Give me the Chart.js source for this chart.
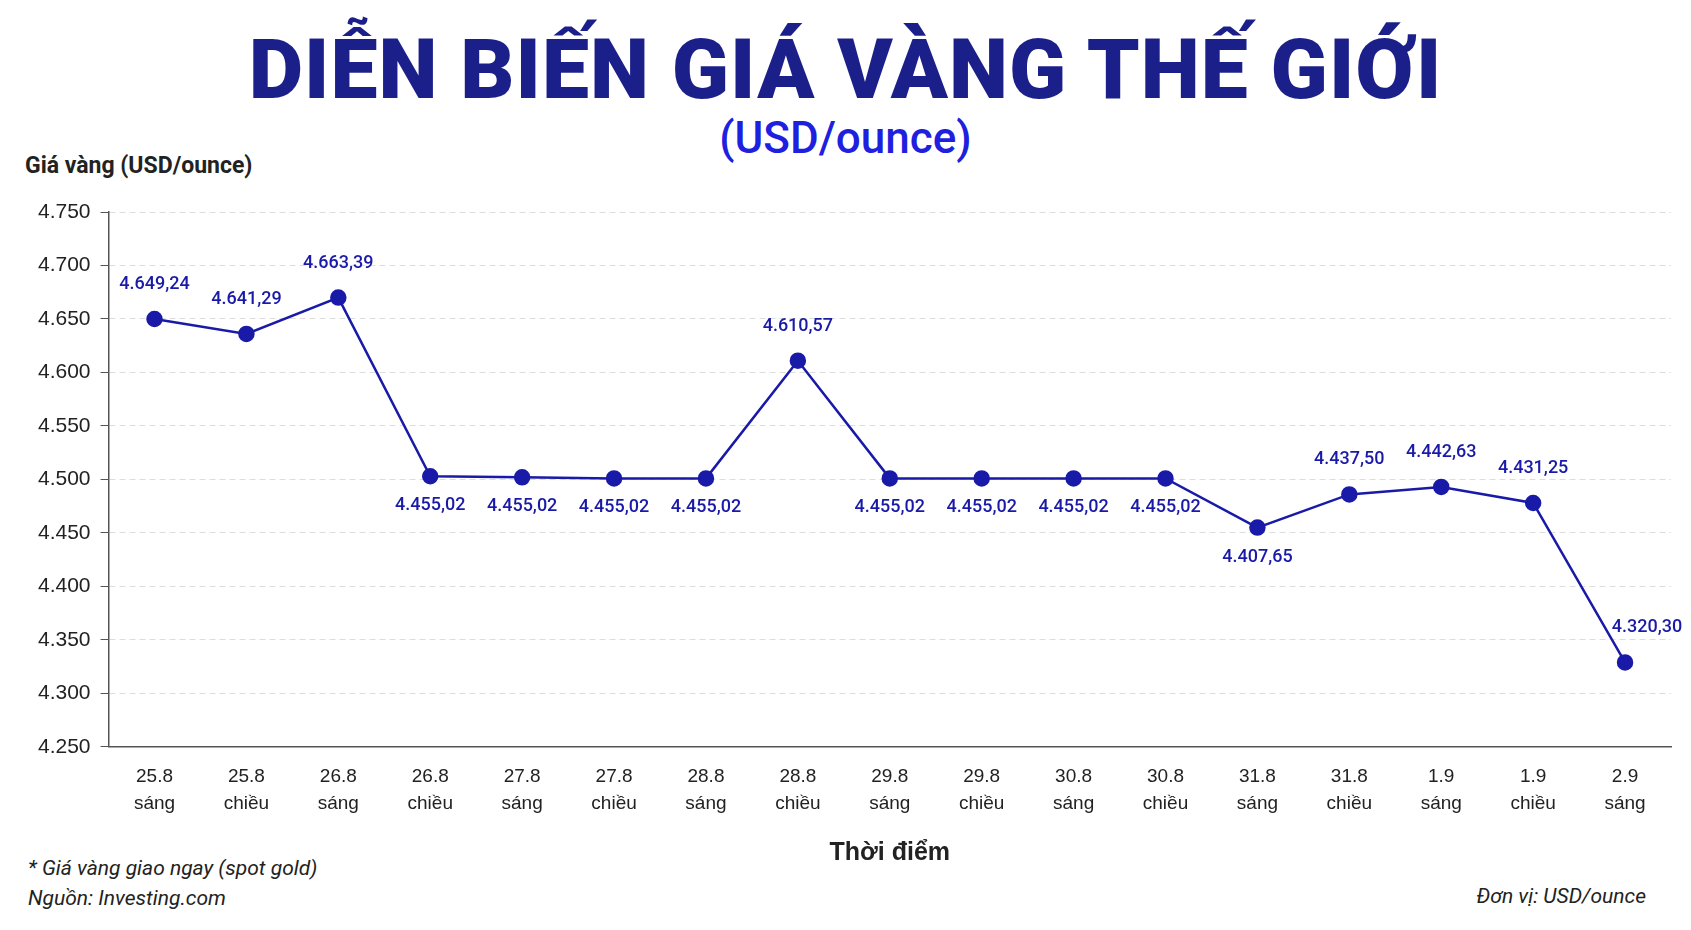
<!DOCTYPE html>
<html><head><meta charset="utf-8">
<script src="https://cdn.jsdelivr.net/npm/chart.js@4"></script>
<style>
body{margin:0;background:#fff;width:1691px;height:930px;overflow:hidden;font-family:Roboto,"Liberation Sans",sans-serif;position:relative}
#t{position:absolute;top:20px;left:0;width:1691px;text-align:center;font:900 84px Roboto,sans-serif;color:#1b1f8a;letter-spacing:1px}
#s{position:absolute;top:112px;left:0;width:1691px;text-align:center;font:500 44px Roboto,sans-serif;color:#1f1fe0}
#yl{position:absolute;top:152px;left:25px;font:700 23px Roboto,sans-serif;color:#222}
.f{position:absolute;font:italic 21px Roboto,sans-serif;color:#222}
canvas{position:absolute;left:0;top:0}
</style></head><body>
<div id="t">DIỄN BIẾN GIÁ VÀNG THẾ GIỚI</div>
<div id="s">(USD/ounce)</div>
<div id="yl">Giá vàng (USD/ounce)</div>
<div class="f" style="left:28px;top:856px">* Giá vàng giao ngay (spot gold)</div>
<div class="f" style="left:28px;top:886px">Nguồn: Investing.com</div>
<div class="f" style="right:45px;top:884px">Đơn vị: USD/ounce</div>
<canvas id="c" width="1691" height="930"></canvas>
<script>
const categories=[["25.8","sáng"],["25.8","chiều"],["26.8","sáng"],["26.8","chiều"],["27.8","sáng"],["27.8","chiều"],["28.8","sáng"],["28.8","chiều"],["29.8","sáng"],["29.8","chiều"],["30.8","sáng"],["30.8","chiều"],["31.8","sáng"],["31.8","chiều"],["1.9","sáng"],["1.9","chiều"],["2.9","sáng"]];
const plotted=[4650,4636,4670,4503,4502,4501,4501,4611,4501,4501,4501,4501,4455,4486,4493,4478,4329];
const labels=["4.649,24","4.641,29","4.663,39","4.455,02","4.455,02","4.455,02","4.455,02","4.610,57","4.455,02","4.455,02","4.455,02","4.455,02","4.407,65","4.437,50","4.442,63","4.431,25","4.320,30"];
const below=[0,0,0,1,1,1,1,0,1,1,1,1,1,0,0,0,0];
const navy='#1a1aa8';
const lbl={id:'lbl',afterDatasetsDraw(ch){const c=ch.ctx,m=ch.getDatasetMeta(0);c.save();c.font='500 18px Roboto';c.fillStyle=navy;c.textAlign='center';
m.data.forEach((p,i)=>{let y=below[i]?p.y+34:p.y-30;let x=p.x;if(i==16){x+=22;}c.fillText(labels[i],x,y);});c.restore();}};
new Chart(document.getElementById('c'),{type:'line',data:{labels:categories,datasets:[{data:plotted,borderColor:navy,backgroundColor:navy,borderWidth:2.5,pointRadius:7,pointHoverRadius:7,tension:0}]},
options:{responsive:false,animation:false,layout:{padding:{top:212,left:28,right:20,bottom:58}},plugins:{legend:{display:false},tooltip:{enabled:false}},
scales:{x:{offset:true,grid:{display:false},border:{color:'#555',width:1.5},ticks:{color:'#222',font:{size:19,lineHeight:1.45},padding:8},
title:{display:true,text:'Thời điểm',color:'#222',font:{size:25,weight:'bold'},padding:{top:12}}},
y:{min:4250,max:4750,ticks:{stepSize:50,color:'#222',font:{size:21},padding:10,callback:v=>v.toLocaleString('de-DE')},
grid:{color:'#ddd',lineWidth:1,drawTicks:true,tickLength:8,tickColor:'#555'},border:{dash:[6,4],color:'#555',width:1.5}}}},plugins:[lbl]});
</script></body></html>
